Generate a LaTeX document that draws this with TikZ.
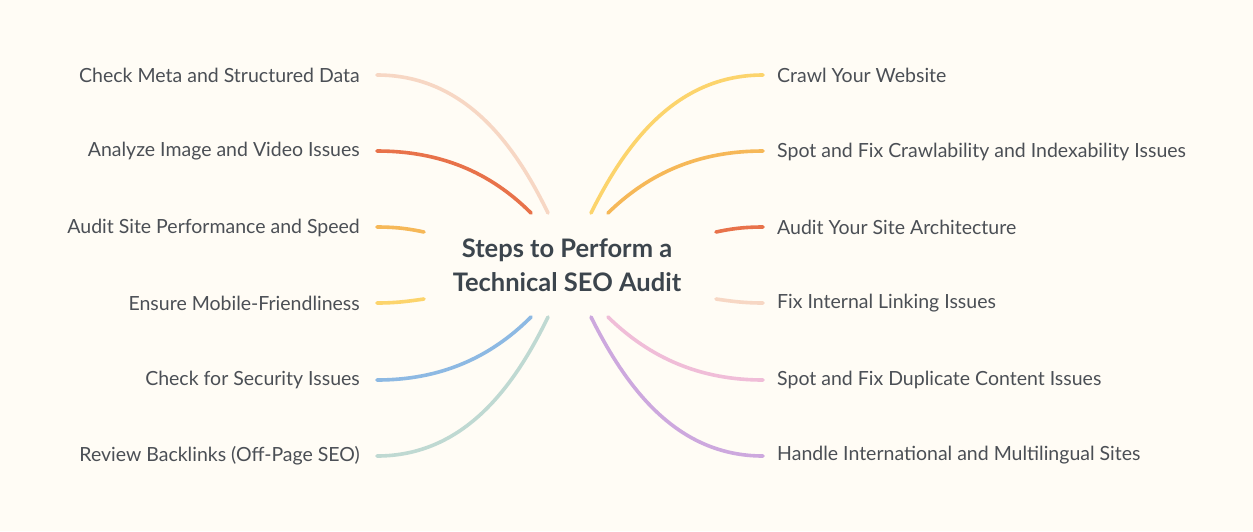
\documentclass[tikz,border=0pt]{standalone}
\usepackage{fontspec}
\setmainfont{Lato}
\definecolor{bg}{HTML}{FFFCF5}
\definecolor{txt}{HTML}{4B4F55}
\definecolor{ttl}{HTML}{3C454D}
\definecolor{peach}{HTML}{F7D7C4}
\definecolor{coral}{HTML}{E8724A}
\definecolor{amber}{HTML}{F6B858}
\definecolor{sun}{HTML}{FCD46C}
\definecolor{sky}{HTML}{8DB9E3}
\definecolor{sage}{HTML}{BFD9D2}
\definecolor{rose}{HTML}{F0BDD8}
\definecolor{lilac}{HTML}{CDA8DE}
\tikzset{
  lbl/.style={font=\fontsize{19.5}{22}\selectfont, text=txt, inner sep=0pt},
  lleft/.style={lbl, anchor=east},
  lright/.style={lbl, anchor=west},
  branch/.style={line width=3.6pt, line cap=round},
}
\begin{document}
\begin{tikzpicture}[x=1pt,y=-1pt]
\fill[bg] (0,0) rectangle (1253,531);
\useasboundingbox (0,0) rectangle (1253,531);

\node[font=\fontsize{25.5}{34}\selectfont\bfseries, text=ttl, align=center] (title) at (567,265) {Steps to Perform a\\Technical SEO Audit};

% left labels
\node[lleft] (l1) at (360,75.5) {Check Meta and Structured Data};
\node[lleft] (l2) at (360,151.5) {Analyze Image and Video Issues};
\node[lleft] (l3) at (360,227.5) {Audit Site Performance and Speed};
\node[lleft] (l4) at (360,303.5) {Ensure Mobile-Friendliness};
\node[lleft] (l5) at (360,379.5) {Check for Security Issues};
\node[lleft] (l6) at (360,455.5) {Review Backlinks (Off-Page SEO)};
% right labels
\node[lright] (r1) at (777,75.5) {Crawl Your Website};
\node[lright] (r2) at (777,151.5) {Spot and Fix Crawlability and Indexability Issues};
\node[lright] (r3) at (777,227.5) {Audit Your Site Architecture};
\node[lright] (r4) at (777,303.5) {Fix Internal Linking Issues};
\node[lright] (r5) at (777,379.5) {Spot and Fix Duplicate Content Issues};
\node[lright] (r6) at (777,455.5) {Handle International and Multilingual Sites};

% endpoints
\coordinate (a1) at (377,75);  \coordinate (b1) at (548,213);
\coordinate (a2) at (377,151); \coordinate (b2) at (531,213);
\coordinate (a3) at (377,227); \coordinate (b3) at (424,232);
\coordinate (a4) at (377,303); \coordinate (b4) at (424,299);
\coordinate (a5) at (377,380); \coordinate (b5) at (531,317);
\coordinate (a6) at (377,456); \coordinate (b6) at (548,317);
\coordinate (c1) at (763,75);  \coordinate (d1) at (591,213);
\coordinate (c2) at (763,151); \coordinate (d2) at (608,213);
\coordinate (c3) at (763,227); \coordinate (d3) at (716,232);
\coordinate (c4) at (763,303); \coordinate (d4) at (716,299);
\coordinate (c5) at (763,380); \coordinate (d5) at (608,317);
\coordinate (c6) at (763,456); \coordinate (d6) at (591,317);

\draw[branch, peach] (a1) .. controls (465,75) and (515,145) .. (b1);
\draw[branch, coral] (a2) .. controls (440,151) and (490,172) .. (b2);
\draw[branch, amber] (a3) .. controls (397,227) and (410,229) .. (b3);
\draw[branch, sun]   (a4) .. controls (397,303) and (410,301) .. (b4);
\draw[branch, sky]   (a5) .. controls (440,380) and (490,358) .. (b5);
\draw[branch, sage]  (a6) .. controls (465,456) and (515,385) .. (b6);

\draw[branch, sun]   (c1) .. controls (675,75) and (625,145) .. (d1);
\draw[branch, amber] (c2) .. controls (700,151) and (650,172) .. (d2);
\draw[branch, coral] (c3) .. controls (743,227) and (730,229) .. (d3);
\draw[branch, peach] (c4) .. controls (743,303) and (730,301) .. (d4);
\draw[branch, rose]  (c5) .. controls (700,380) and (650,358) .. (d5);
\draw[branch, lilac] (c6) .. controls (675,456) and (625,385) .. (d6);
\end{tikzpicture}
\end{document}
